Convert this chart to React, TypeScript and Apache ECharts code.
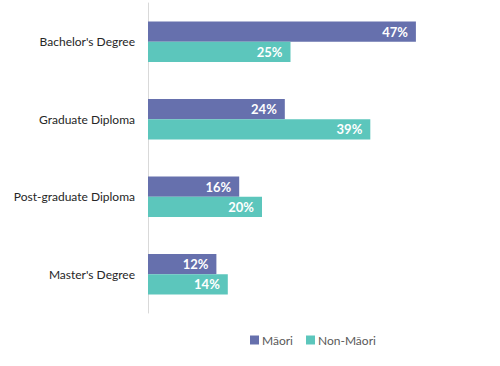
import React, { useEffect, useRef } from "react";
import * as echarts from "echarts";

const categories = ["Bachelor's Degree", "Graduate Diploma", "Post-graduate Diploma", "Master's Degree"];
const maoriValues = [47, 24, 16, 12];
const nonMaoriValues = [25, 39, 20, 14];
const seriesNames = ["Māori", "Non-Māori"];

export default function App() {
  const ref = useRef<HTMLDivElement>(null);
  useEffect(() => {
    const chart = echarts.init(ref.current!, undefined, { renderer: "svg" });
    const label = {
      show: true,
      position: "insideRight" as const,
      distance: 8,
      color: "#ffffff",
      fontWeight: "bold" as const,
      fontSize: 13,
      fontFamily: "Lato",
      formatter: (p: any) => p.value + "%",
    };
    chart.setOption({
      animation: false,
      textStyle: { fontFamily: "Lato" },
      grid: { left: 148, top: 3, width: 285, height: 310, containLabel: false },
      legend: {
        left: 250,
        top: 334,
        padding: 0,
        itemWidth: 9,
        itemHeight: 9,
        itemGap: 13,
        icon: "rect",
        textStyle: { color: "#595959", fontSize: 12, fontFamily: "Lato", padding: [0, 0, 0, -2] },
        data: seriesNames,
      },
      xAxis: {
        type: "value",
        min: 0,
        max: 50,
        show: false,
      },
      yAxis: {
        type: "category",
        inverse: true,
        data: categories,
        axisLine: { show: true, lineStyle: { color: "#d9d9d9", width: 1 } },
        axisTick: { show: false },
        axisLabel: { color: "#262626", fontSize: 12, fontFamily: "Lato", margin: 13 },
      },
      series: [
        {
          name: seriesNames[0],
          type: "bar",
          data: maoriValues,
          barGap: "0%",
          barCategoryGap: "48%",
          itemStyle: { color: "#6670AD" },
          label,
        },
        {
          name: seriesNames[1],
          type: "bar",
          data: nonMaoriValues,
          barGap: "0%",
          barCategoryGap: "48%",
          itemStyle: { color: "#5CC6BC" },
          label,
        },
      ],
    });
    return () => chart.dispose();
  }, []);
  return <div ref={ref} style={{ width: 500, height: 366, position: "absolute", left: 0, top: 0 }} />;
}
